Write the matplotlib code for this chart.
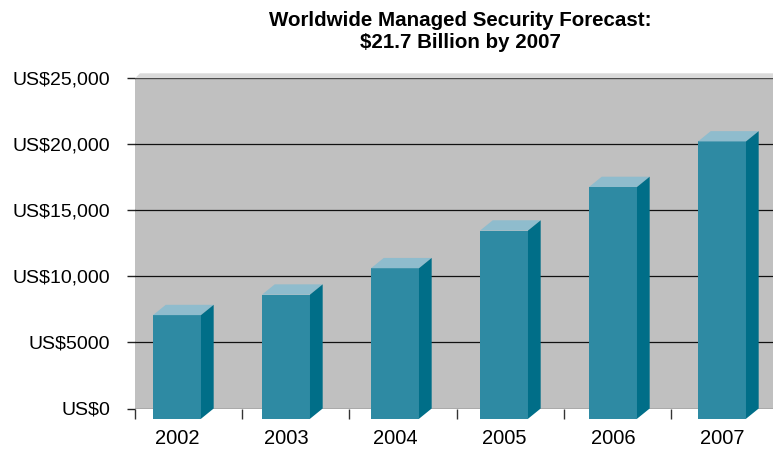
import numpy as np
import matplotlib
matplotlib.use('Agg')
import matplotlib.pyplot as plt
from matplotlib.patches import Polygon

# data
years = ['2002', '2003', '2004', '2005', '2006', '2007']
values = [7850, 9400, 11400, 14250, 17550, 21000]
y_ticks = [0, 5000, 10000, 15000, 20000, 25000]
y_labels = ['US\\$0', 'US\\$5000', 'US\\$10,000', 'US\\$15,000', 'US\\$20,000', 'US\\$25,000']
title = 'Worldwide Managed Security Forecast:\n\\$21.7 Billion by 2007'

plt.rcParams['font.family'] = ['Liberation Sans', 'DejaVu Sans']

W, H = 773, 449
fig = plt.figure(figsize=(W / 100, H / 100), dpi=100)

# wall area in pixels
left, right, top, bottom = 135, 773, 78.3, 408.5
ax = fig.add_axes([left / W, (H - bottom) / H, (right - left) / W, (bottom - top) / H])

unit = 109.0           # px per category
x0_px = 189.7          # back centre of first bar
ax.set_xlim(-(x0_px - left) / unit, (right - x0_px) / unit)
ax.set_ylim(0, 25000)
px_y = 25000 / (bottom - top)

bw = 0.44              # bar width
dx = 12.7 / unit       # depth offset
dy = 10.3 * px_y

front_c = '#2e8aa3'
top_c = '#8fbccd'
side_c = '#006e88'

ax.set_facecolor('#c0c0c0')
for s in ax.spines.values():
    s.set_visible(False)

# wall top edge
xl = ax.get_xlim()
ax.add_patch(Polygon([(xl[0], 25000), (xl[0] + 5 / unit, 25000 + 5 * px_y),
                      (xl[1], 25000 + 5 * px_y), (xl[1], 25000)],
                     closed=True, fc='#dadada', ec='none', clip_on=False, zorder=1))

ax.set_axisbelow(True)
ax.yaxis.grid(True, color='#111111', lw=0.9)

xs = np.arange(len(years))
ax.bar(xs - dx, values, bottom=-dy, width=bw, color=front_c, clip_on=False, zorder=3)
for x, v in zip(xs, values):
    ax.add_patch(Polygon([(x - bw / 2 - dx, v - dy), (x + bw / 2 - dx, v - dy),
                          (x + bw / 2, v), (x - bw / 2, v)],
                         closed=True, fc=top_c, ec='none', clip_on=False, zorder=3))
    ax.add_patch(Polygon([(x + bw / 2 - dx, -dy), (x + bw / 2, 0),
                          (x + bw / 2, v), (x + bw / 2 - dx, v - dy)],
                         closed=True, fc=side_c, ec='none', clip_on=False, zorder=3))

ax.set_yticks(y_ticks)
ax.set_yticklabels(y_labels, fontsize=14)
ax.tick_params(axis='y', length=6, width=1, color='#222222', pad=12)

ax.set_xticks(xs - dx)
ax.set_xticklabels(years, fontsize=14.5)
ax.tick_params(axis='x', which='major', length=0, pad=15)
bounds = [(left + 107.2 * k - x0_px) / unit for k in range(6)]
ax.set_xticks(bounds, minor=True)
ax.tick_params(axis='x', which='minor', length=7, width=1, color='#333333')

fig.text(460 / W, 1 - 31 / H, title, ha='center', va='center',
         fontsize=14.8, fontweight='bold', linespacing=1.2)

fig.savefig('out.png', dpi=100)
